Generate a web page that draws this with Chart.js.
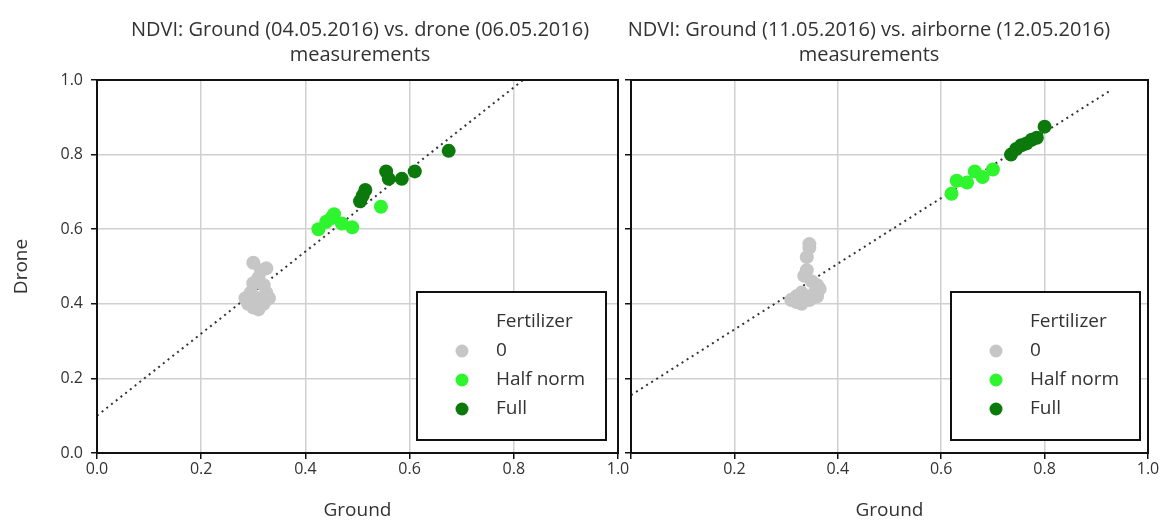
<!DOCTYPE html>
<html><head><meta charset="utf-8">
<script src="https://cdn.jsdelivr.net/npm/chart.js@4/dist/chart.umd.min.js"></script>
<style>
html,body{margin:0;padding:0;background:#fff;}
#wrap{position:relative;width:1168px;height:526px;overflow:hidden;}
#c1{position:absolute;left:0;top:0;}
#c2{position:absolute;left:622px;top:0;}
</style></head><body>
<div id="wrap">
<canvas id="c1" width="640" height="526"></canvas>
<canvas id="c2" width="546" height="526"></canvas>
</div>
<script>
// ---- data ----
const leftTitle = ['NDVI: Ground (04.05.2016) vs. drone (06.05.2016)', 'measurements'];
const rightTitle = ['NDVI: Ground (11.05.2016) vs. airborne (12.05.2016)', 'measurements'];
const xAxisTitle = 'Ground';
const yAxisTitle = 'Drone';
const legendTitle = 'Fertilizer';
const seriesNames = ['0', 'Half norm', 'Full'];
const tickValues = [0, 0.2, 0.4, 0.6, 0.8, 1.0];

const leftZeroX = [0.300, 0.315, 0.325, 0.310, 0.300, 0.320, 0.295, 0.325, 0.285, 0.310, 0.330, 0.290, 0.300, 0.310, 0.320];
const leftZeroY = [0.510, 0.490, 0.495, 0.470, 0.455, 0.450, 0.430, 0.430, 0.415, 0.415, 0.415, 0.400, 0.390, 0.385, 0.400];
const leftHalfX = [0.425, 0.440, 0.450, 0.455, 0.470, 0.490, 0.545];
const leftHalfY = [0.600, 0.620, 0.630, 0.640, 0.615, 0.605, 0.660];
const leftFullX = [0.505, 0.510, 0.515, 0.555, 0.560, 0.585, 0.610, 0.675];
const leftFullY = [0.675, 0.690, 0.705, 0.755, 0.735, 0.735, 0.755, 0.810];
const leftFitX = [0.0, 0.818];
const leftFitY = [0.100, 1.000];

const rightZeroX = [0.345, 0.345, 0.340, 0.340, 0.335, 0.350, 0.360, 0.365, 0.355, 0.330, 0.320, 0.310, 0.330, 0.345, 0.360, 0.320];
const rightZeroY = [0.560, 0.550, 0.525, 0.490, 0.475, 0.460, 0.450, 0.440, 0.430, 0.430, 0.420, 0.410, 0.400, 0.410, 0.420, 0.405];
const rightHalfX = [0.620, 0.630, 0.650, 0.665, 0.680, 0.700];
const rightHalfY = [0.695, 0.730, 0.725, 0.755, 0.740, 0.760];
const rightFullX = [0.735, 0.745, 0.755, 0.765, 0.775, 0.785, 0.800];
const rightFullY = [0.800, 0.815, 0.825, 0.830, 0.840, 0.845, 0.875];
const rightFitX = [0.0, 0.925];
const rightFitY = [0.155, 0.970];

// ---- styles ----
const FONT = "'Open Sans', 'Noto Sans', sans-serif";
const seriesColors = ['#c6c6c6', '#2ef52e', '#0b790b'];
const textColor = '#333333';

function pts(xs, ys) { return xs.map((x, i) => ({x: x, y: ys[i]})); }

function datasets(zx, zy, hx, hy, fx, fy, lx, ly) {
  const sets = [[zx, zy], [hx, hy], [fx, fy]].map((s, i) => ({
    type: 'scatter', label: seriesNames[i], data: pts(s[0], s[1]),
    pointRadius: 7, pointHoverRadius: 7, pointBorderWidth: 0,
    backgroundColor: seriesColors[i], borderColor: seriesColors[i], order: 1
  }));
  sets.push({
    type: 'line', label: '__fit', data: pts(lx, ly), showLine: true,
    borderColor: '#333', borderWidth: 2, borderDash: [2, 4], pointRadius: 0, order: 5, fill: false
  });
  return sets;
}

const frame = {
  id: 'frame',
  afterDraw(chart) {
    const {ctx, chartArea: a} = chart;
    ctx.save();
    ctx.strokeStyle = '#111'; ctx.lineWidth = 2;
    ctx.strokeRect(a.left, a.top, a.width, a.height);
    ctx.restore();
  }
};

const titles = {
  id: 'titles',
  afterDraw(chart, args, o) {
    const ctx = chart.ctx;
    ctx.save();
    ctx.fillStyle = textColor; ctx.font = '20px ' + FONT;
    ctx.textAlign = 'center'; ctx.textBaseline = 'middle';
    o.lines.forEach((t, i) => ctx.fillText(t, o.cx, o.y0 + i * o.dy));
    ctx.restore();
  }
};

const boxLegend = {
  id: 'boxLegend',
  afterDraw(chart, args, o) {
    const {ctx, chartArea: a} = chart;
    const x0 = a.left + o.left, y0 = a.top + o.top;
    ctx.save();
    ctx.fillStyle = '#fff';
    ctx.fillRect(x0, y0, o.width, o.height);
    ctx.strokeStyle = '#111'; ctx.lineWidth = 2;
    ctx.strokeRect(x0, y0, o.width, o.height);
    ctx.fillStyle = textColor; ctx.font = '19px ' + FONT;
    ctx.textAlign = 'left'; ctx.textBaseline = 'middle';
    ctx.fillText(legendTitle, x0 + o.textX, y0 + o.firstY);
    chart.data.datasets.filter(d => d.label !== '__fit').forEach((d, i) => {
      const y = y0 + o.firstY + (i + 1) * o.rowH;
      ctx.beginPath(); ctx.fillStyle = d.backgroundColor;
      ctx.arc(x0 + o.markX, y, 6.5, 0, Math.PI * 2); ctx.fill();
      ctx.fillStyle = textColor;
      ctx.fillText(d.label, x0 + o.textX, y);
    });
    ctx.restore();
  }
};

function scaleOpts(axis, showLabels, fixedSize, title, hideZero) {
  return {
    type: 'linear', min: 0, max: 1,
    afterBuildTicks: s => { s.ticks = tickValues.map(v => ({value: v})); },
    afterFit: s => {
      if (axis === 'x') { s.height = fixedSize; s.paddingLeft = 0; s.paddingRight = 0; }
      else { s.width = fixedSize; s.paddingTop = 0; s.paddingBottom = 0; }
    },
    ticks: {
      display: showLabels, color: textColor, padding: axis === 'x' ? 1 : 8,
      font: {family: FONT, size: 16},
      callback: v => (hideZero && v === 0) ? '' : Number(v).toFixed(1)
    },
    grid: { color: '#d0d0d0', lineWidth: 1.5, drawTicks: true, tickLength: 6, tickColor: '#111', tickWidth: 1.5 },
    border: { display: true, color: '#111', width: 2 },
    title: title ? {
      display: true, text: title, color: textColor, font: {family: FONT, size: 19},
      padding: axis === 'x' ? {top: 0, bottom: 4} : {top: 10, bottom: 0}
    } : {display: false}
  };
}

function makeChart(id, ds, opts) {
  return new Chart(document.getElementById(id), {
    data: {datasets: ds},
    options: {
      responsive: false, animation: false, events: [],
      layout: {padding: {left: 0, right: opts.padRight, top: 80, bottom: 0}},
      scales: {
        x: scaleOpts('x', true, 73, xAxisTitle, opts.hideZero),
        y: scaleOpts('y', opts.yLabels, opts.yWidth, opts.yLabels ? yAxisTitle : null, false)
      },
      plugins: {
        legend: {display: false}, tooltip: {enabled: false},
        titles: {lines: opts.title, cx: opts.titleCx, y0: 30, dy: 25},
        boxLegend: {left: 320, top: 212, width: 189, height: 148, markX: 45, textX: 79, firstY: 30, rowH: 29}
      }
    },
    plugins: [frame, titles, boxLegend]
  });
}

makeChart('c1', datasets(leftZeroX, leftZeroY, leftHalfX, leftHalfY, leftFullX, leftFullY, leftFitX, leftFitY),
  {padRight: 22, yLabels: true, yWidth: 97, title: leftTitle, titleCx: 360, hideZero: false});
makeChart('c2', datasets(rightZeroX, rightZeroY, rightHalfX, rightHalfY, rightFullX, rightFullY, rightFitX, rightFitY),
  {padRight: 20, yLabels: false, yWidth: 9, title: rightTitle, titleCx: 247, hideZero: true});
</script>
</body></html>
